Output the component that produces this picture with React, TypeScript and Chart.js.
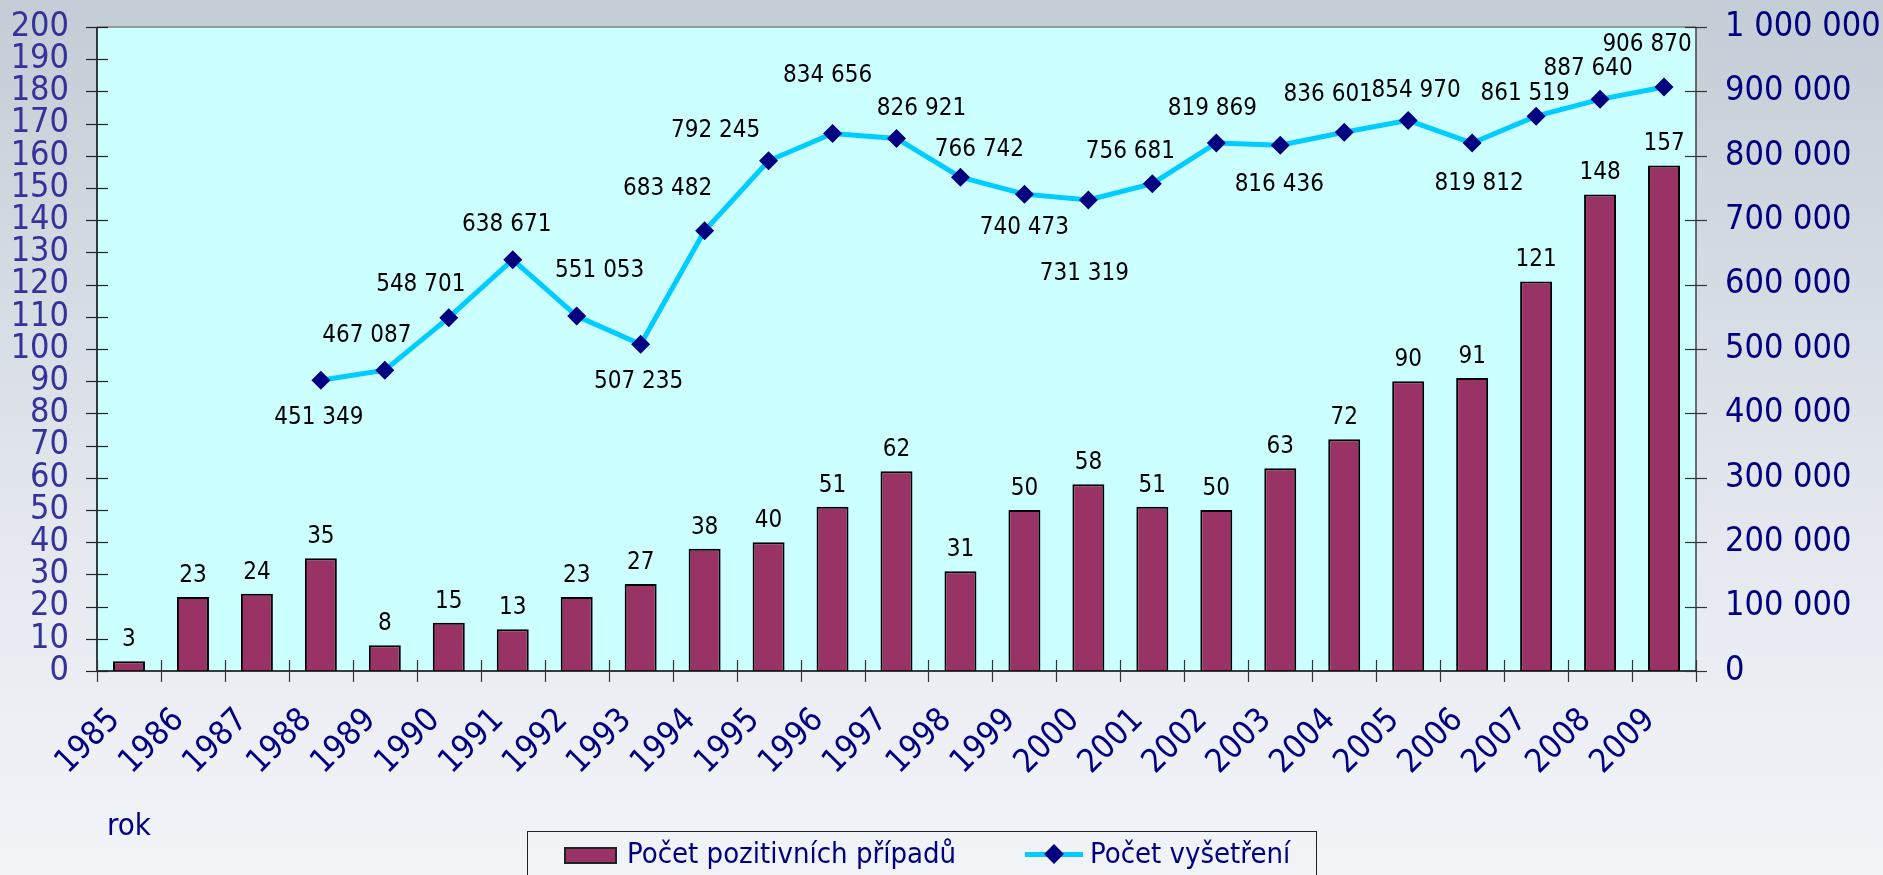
import React, { useEffect, useRef } from "react";
import { Chart, registerables } from "chart.js";

Chart.register(...registerables);

const FONT = "'DejaVu Sans Condensed', 'DejaVu Sans', Verdana, sans-serif";

const years = [
  "1985", "1986", "1987", "1988", "1989", "1990", "1991", "1992", "1993", "1994",
  "1995", "1996", "1997", "1998", "1999", "2000", "2001", "2002", "2003", "2004",
  "2005", "2006", "2007", "2008", "2009",
];

const positiveCases = [
  3, 23, 24, 35, 8, 15, 13, 23, 27, 38, 40, 51, 62, 31, 50, 58, 51, 50, 63, 72, 90, 91, 121, 148, 157,
];

const examinations: (number | null)[] = [
  null, null, null, 451349, 467087, 548701, 638671, 551053, 507235, 683482, 792245, 834656,
  826921, 766742, 740473, 731319, 756681, 819869, 816436, 836601, 854970, 819812, 861519,
  887640, 906870,
];

const leftAxisMax = 200;
const leftAxisStep = 10;
const rightAxisMax = 1000000;
const rightAxisStep = 100000;

const legendLabels = ["Počet pozitivních případů", "Počet vyšetření"];
const xAxisTitle = "rok";

// label placement (dx, dy in px) for the line's value labels
const examLabelOffsets: ([number, number] | null)[] = [
  null, null, null, [-2, 37], [-18, -34], [-28, -33], [-6, -35], [23, -45], [-2, 37],
  [-37, -42], [-53, -30], [-5, -58], [25, -30], [19, -27], [0, 34], [-4, 74], [-22, -32],
  [-4, -34], [-1, 40], [-16, -37], [8, -30], [7, 41], [-11, -22], [-12, -31], [-17, -42],
];

const fmt = (v: number) => String(v).replace(/\B(?=(\d{3})+(?!\d))/g, " ");

const decorPlugin = {
  id: "decor",
  beforeDraw(chart: any) {
    const { ctx, chartArea: a, width, height } = chart;
    ctx.save();
    const g = ctx.createLinearGradient(0, 0, 0, height);
    g.addColorStop(0, "#c3cdd5");
    g.addColorStop(0.45, "#dce1e8");
    g.addColorStop(0.7, "#e9ebf2");
    g.addColorStop(1, "#f1f4f7");
    ctx.fillStyle = g;
    ctx.fillRect(0, 0, width, height);
    ctx.fillStyle = "#ccffff";
    ctx.fillRect(a.left, a.top, a.right - a.left, a.bottom - a.top);
    ctx.restore();
  },
  afterDatasetsDraw(chart: any) {
    const { ctx, chartArea: a } = chart;
    const xs = chart.scales.x;
    const ys = chart.scales.y;
    const y1 = chart.scales.y1;
    ctx.save();
    // frame
    ctx.lineWidth = 1.5;
    ctx.strokeStyle = "#808080";
    ctx.beginPath();
    ctx.moveTo(a.left, a.top);
    ctx.lineTo(a.right, a.top);
    ctx.stroke();
    ctx.strokeStyle = "#404040";
    ctx.beginPath();
    ctx.moveTo(a.right, a.top);
    ctx.lineTo(a.right, a.bottom);
    ctx.stroke();
    ctx.strokeStyle = "#000";
    ctx.beginPath();
    ctx.moveTo(a.left, a.top);
    ctx.lineTo(a.left, a.bottom);
    ctx.lineTo(a.right, a.bottom);
    ctx.stroke();
    // left ticks
    ctx.strokeStyle = "#222";
    ctx.lineWidth = 1.2;
    for (let v = 0; v <= leftAxisMax; v += leftAxisStep) {
      const y = Math.round(ys.getPixelForValue(v)) + 0.5;
      ctx.beginPath();
      ctx.moveTo(a.left - 11, y);
      ctx.lineTo(a.left + 11, y);
      ctx.stroke();
    }
    ctx.strokeStyle = "#333";
    for (let v = 0; v <= rightAxisMax; v += rightAxisStep) {
      const y = Math.round(y1.getPixelForValue(v)) + 0.5;
      ctx.beginPath();
      ctx.moveTo(a.right - 11, y);
      ctx.lineTo(a.right + 11, y);
      ctx.stroke();
    }
    const half = (xs.getPixelForValue(1) - xs.getPixelForValue(0)) / 2;
    for (let i = 0; i <= years.length; i++) {
      const x =
        i < years.length
          ? xs.getPixelForValue(i) - half
          : xs.getPixelForValue(years.length - 1) + half;
      const xp = Math.round(x) + 0.5;
      ctx.beginPath();
      ctx.moveTo(xp, a.bottom - 11);
      ctx.lineTo(xp, a.bottom + 11);
      ctx.stroke();
    }
    // value labels
    ctx.fillStyle = "#000";
    ctx.font = `24px ${FONT}`;
    ctx.textAlign = "center";
    ctx.textBaseline = "alphabetic";
    const m0 = chart.getDatasetMeta(0);
    m0.data.forEach((el: any, i: number) => {
      ctx.fillText(fmt(positiveCases[i]), el.x, el.y - 15);
    });
    ctx.textBaseline = "middle";
    const m1 = chart.getDatasetMeta(1);
    m1.data.forEach((el: any, i: number) => {
      const v = examinations[i];
      const off = examLabelOffsets[i];
      if (v == null || !off) return;
      ctx.fillText(fmt(v), el.x + off[0], el.y + off[1]);
    });
    ctx.restore();
  },
};

export default function App() {
  const ref = useRef<HTMLCanvasElement | null>(null);

  useEffect(() => {
    if (!ref.current) return;
    const chart = new Chart(ref.current, {
      type: "bar",
      data: {
        labels: years,
        datasets: [
          {
            type: "bar",
            label: legendLabels[0],
            data: positiveCases,
            backgroundColor: "#993366",
            borderColor: "#000000",
            borderWidth: 2,
            barPercentage: 0.5,
            categoryPercentage: 1,
            yAxisID: "y",
            order: 1,
          },
          {
            type: "line",
            label: legendLabels[1],
            data: examinations,
            borderColor: "#00ccff",
            borderWidth: 5,
            tension: 0,
            pointStyle: "rectRot",
            pointRadius: 9.5,
            pointBackgroundColor: "#000080",
            pointBorderColor: "#000080",
            pointBorderWidth: 0,
            spanGaps: false,
            yAxisID: "y1",
            order: 0,
          } as any,
        ],
      },
      options: {
        responsive: false,
        animation: false,
        layout: { padding: { top: 27, left: 0, right: 0, bottom: 0 } },
        plugins: {
          legend: { display: false },
          tooltip: { enabled: false },
        },
        scales: {
          x: {
            offset: true,
            grid: { display: false, drawTicks: false },
            border: { display: false },
            ticks: {
              color: "#000080",
              font: { family: FONT, size: 33 },
              minRotation: 45,
              maxRotation: 45,
              autoSkip: false,
              padding: 30,
              labelOffset: -14,
            },
            afterFit: (s: any) => {
              s.height = 204;
              s.paddingLeft = 0;
              s.paddingRight = 0;
            },
          },
          y: {
            position: "left",
            min: 0,
            max: leftAxisMax,
            grid: { display: false, drawTicks: false },
            border: { display: false },
            ticks: {
              stepSize: leftAxisStep,
              autoSkip: false,
              color: "#333399",
              font: { family: FONT, size: 34 },
              padding: 28,
            },
            afterFit: (s: any) => {
              s.width = 97;
              s.paddingTop = 0;
              s.paddingBottom = 0;
            },
          },
          y1: {
            position: "right",
            min: 0,
            max: rightAxisMax,
            grid: { display: false, drawTicks: false },
            border: { display: false },
            ticks: {
              stepSize: rightAxisStep,
              autoSkip: false,
              color: "#000080",
              font: { family: FONT, size: 34 },
              padding: 29,
              callback: (v: any) => fmt(Number(v)),
            },
            afterFit: (s: any) => {
              s.width = 187;
              s.paddingTop = 0;
              s.paddingBottom = 0;
            },
          },
        },
      },
      plugins: [decorPlugin],
    });
    return () => chart.destroy();
  }, []);

  const textStyle: React.CSSProperties = {
    position: "absolute",
    fontFamily: FONT,
    fontSize: 29,
    lineHeight: "29px",
    color: "#000080",
    whiteSpace: "nowrap",
  };

  return (
    <div
      style={{
        position: "absolute",
        left: 0,
        top: 0,
        width: 1883,
        height: 875,
        overflow: "hidden",
      }}
    >
      <canvas ref={ref} width={1883} height={875} style={{ display: "block" }} />
      <div
        style={{
          position: "absolute",
          left: 107,
          top: 809,
          fontFamily: FONT,
          fontSize: 31,
          lineHeight: "31px",
          color: "#000080",
        }}
      >
        {xAxisTitle}
      </div>
      <div
        style={{
          position: "absolute",
          left: 527,
          top: 831,
          width: 790,
          height: 70,
          border: "1px solid #222",
          boxSizing: "border-box",
        }}
      >
        <div
          style={{
            position: "absolute",
            left: 36,
            top: 15,
            width: 53,
            height: 17,
            background: "#993366",
            border: "2px solid #222",
            boxSizing: "border-box",
          }}
        />
        <div style={{ ...textStyle, left: 99, top: 7 }}>{legendLabels[0]}</div>
        <div
          style={{
            position: "absolute",
            left: 497,
            top: 20,
            width: 58,
            height: 5,
            background: "#00ccff",
          }}
        />
        <div
          style={{
            position: "absolute",
            left: 526 - 7,
            top: 22 - 7,
            width: 14,
            height: 14,
            background: "#000080",
            transform: "rotate(45deg)",
          }}
        />
        <div style={{ ...textStyle, left: 562, top: 7 }}>{legendLabels[1]}</div>
      </div>
    </div>
  );
}
